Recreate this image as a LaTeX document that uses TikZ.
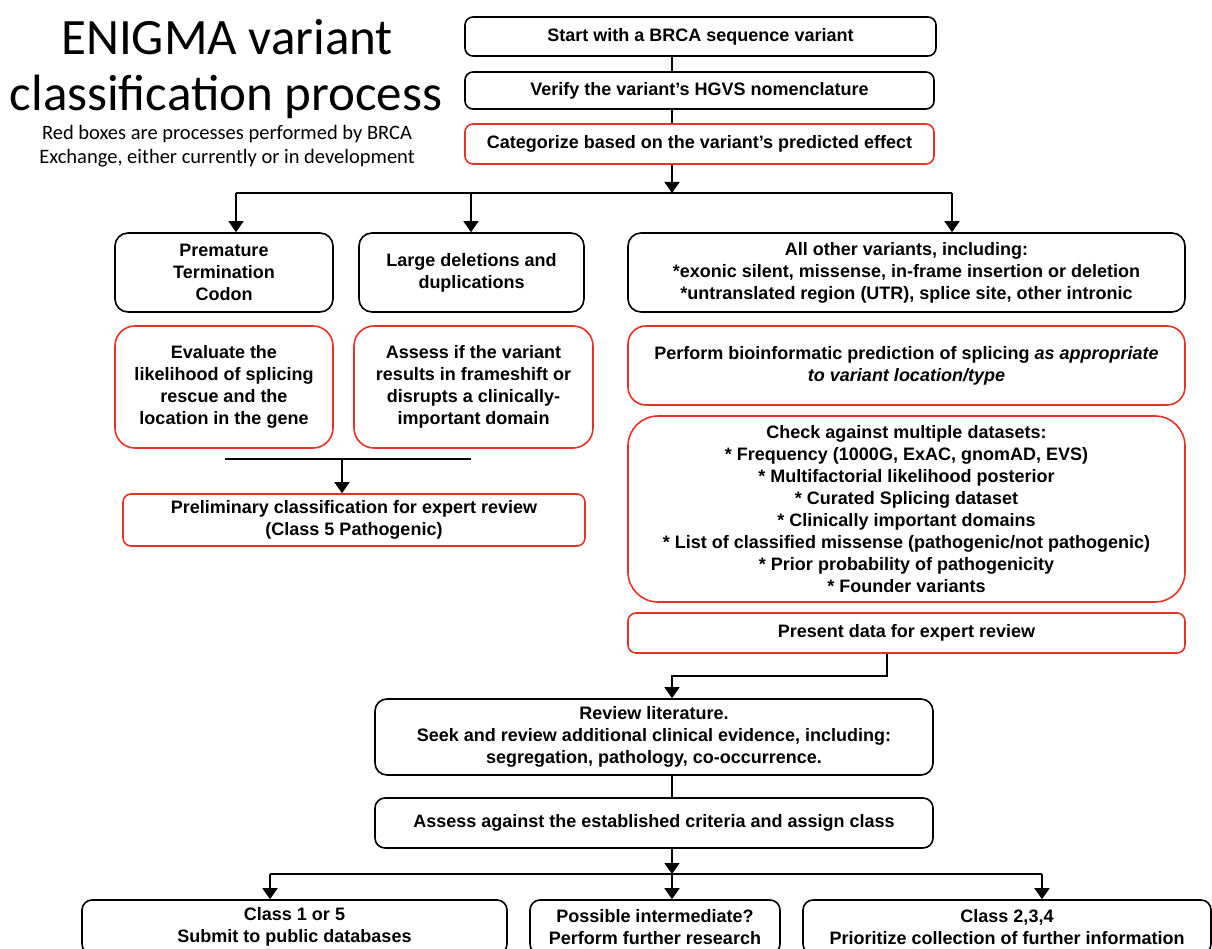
\documentclass[tikz,border=0pt]{standalone}
\usepackage{fontspec}
\setmainfont{Liberation Sans}
\newfontfamily\titlefont{Carlito}
\usetikzlibrary{arrows.meta}
\definecolor{boxred}{RGB}{232,50,40}
\tikzset{
  box/.style={draw=black, line width=1.6pt, rounded corners=8pt, align=center, inner sep=0pt,
    font=\bfseries\fontsize{18}{22}\selectfont},
  redbox/.style={box, draw=boxred},
  conn/.style={line width=1.5pt, draw=black},
  arr/.style={conn, -{Triangle[width=15pt,length=11pt]}},
}
\newcommand{\bx}[6]{\node[#1, minimum width=#4pt, minimum height=#5pt] (#2) at (#3) {#6};}
\begin{document}
\begin{tikzpicture}[x=1pt,y=-1pt]
\useasboundingbox (0,0) rectangle (1212,949);
\clip (0,0) rectangle (1212,949);
\fill[white] (0,0) rectangle (1212,949);
% title
\node[anchor=base, inner sep=0pt, font=\titlefont\fontsize{51}{55}\selectfont] (t1) at (227,55) {ENIGMA variant};
\node[anchor=base, inner sep=0pt, font=\titlefont\fontsize{51}{55}\selectfont] (t2) at (226,111) {classification process};
\node[anchor=base, inner sep=0pt, font=\titlefont\fontsize{20.5}{25}\selectfont] (s1) at (227,140) {Red boxes are processes performed by BRCA};
\node[anchor=base, inner sep=0pt, font=\titlefont\fontsize{20.5}{25}\selectfont] (s2) at (227,164) {Exchange, either currently or in development};
% boxes
\bx{box}{start}{700.5,36.5}{471}{39}{Start with a BRCA sequence variant}
\bx{box}{verify}{699.5,90.5}{469}{37}{Verify the variant’s HGVS nomenclature}
\bx{redbox}{categ}{699.5,144}{469}{40}{Categorize based on the variant’s predicted effect}
\bx{box, rounded corners=13pt}{ptc}{224,272.5}{218}{79}{Premature\\Termination\\Codon}
\bx{box, rounded corners=13pt}{large}{471.5,272.5}{225}{79}{Large deletions and\\duplications}
\bx{redbox, rounded corners=20pt}{eval}{224,387}{218}{122}{Evaluate the\\likelihood of splicing\\rescue and the\\location in the gene}
\bx{redbox, rounded corners=20pt}{assessf}{473.5,387}{239}{122}{Assess if the variant\\results in frameshift or\\disrupts a clinically-\\important domain}
\bx{redbox}{prelim}{354,520}{462}{52}{Preliminary classification for expert review\\(Class 5 Pathogenic)}
\bx{box, rounded corners=13pt}{other}{906.5,272.5}{557}{79}{All other variants, including:\\*exonic silent, missense, in-frame insertion or deletion\\*untranslated region (UTR), splice site, other intronic}
\bx{redbox, rounded corners=18pt}{bioinf}{906.5,365.5}{557}{79}{Perform bioinformatic prediction of splicing \textit{as appropriate}\\\textit{to variant location/type}}
\bx{redbox, rounded corners=30pt}{check}{906.5,509}{557}{186}{Check against multiple datasets:\\* Frequency (1000G, ExAC, gnomAD, EVS)\\* Multifactorial likelihood posterior\\* Curated Splicing dataset\\* Clinically important domains\\* List of classified missense (pathogenic/not pathogenic)\\* Prior probability of pathogenicity\\* Founder variants}
\bx{redbox}{present}{906.5,633}{557}{40}{Present data for expert review}
\bx{box, rounded corners=12pt}{review}{654,737}{558}{76}{Review literature.\\Seek and review additional clinical evidence, including:\\segregation, pathology, co-occurrence.}
\bx{box, rounded corners=10pt}{assign}{654,823}{558}{50}{Assess against the established criteria and assign class}
\bx{box, rounded corners=10pt}{c15}{294.5,927}{425}{54}{Class 1 or 5\\Submit to public databases}
\bx{box, rounded corners=10pt}{poss}{655,927}{250}{54}{Possible intermediate?\\Perform further research}
\bx{box, rounded corners=10pt}{c234}{1007,927}{408}{54}{Class 2,3,4\\Prioritize collection of further information}
% connector coordinates
\coordinate (cx) at (672,0);
\coordinate (tm) at (672,193);
\coordinate (tl) at (236,193);
\coordinate (tc) at (471,193);
\coordinate (tr) at (952,193);
\coordinate (hl) at (225,459);
\coordinate (hr) at (471,459);
\coordinate (hm) at (342,459);
\coordinate (p1) at (887,676);
\coordinate (p2) at (672,676);
\coordinate (bl) at (270,874);
\coordinate (bm) at (672,874);
\coordinate (br) at (1042,874);
% connectors
\draw[conn] (start.south -| cx) -- (verify.north -| cx);
\draw[conn] (verify.south -| cx) -- (categ.north -| cx);
\draw[arr] (categ.south -| cx) -- (tm);
\draw[conn] (tl) -- (tr);
\draw[arr] (tl) -- (ptc.north -| tl);
\draw[arr] (tc) -- (large.north -| tc);
\draw[arr] (tr) -- (other.north -| tr);
\draw[conn] (hl) -- (hr);
\draw[arr] (hm) -- (prelim.north -| hm);
\draw[arr] (present.south -| p1) -- (p1) -- (p2) -- (review.north -| p2);
\draw[conn] (review.south -| cx) -- (assign.north -| cx);
\draw[arr] (assign.south -| cx) -- (bm);
\draw[conn] (bl) -- (br);
\draw[arr] (bl) -- (c15.north -| bl);
\draw[arr] (bm) -- (poss.north -| bm);
\draw[arr] (br) -- (c234.north -| br);
\end{tikzpicture}
\end{document}
